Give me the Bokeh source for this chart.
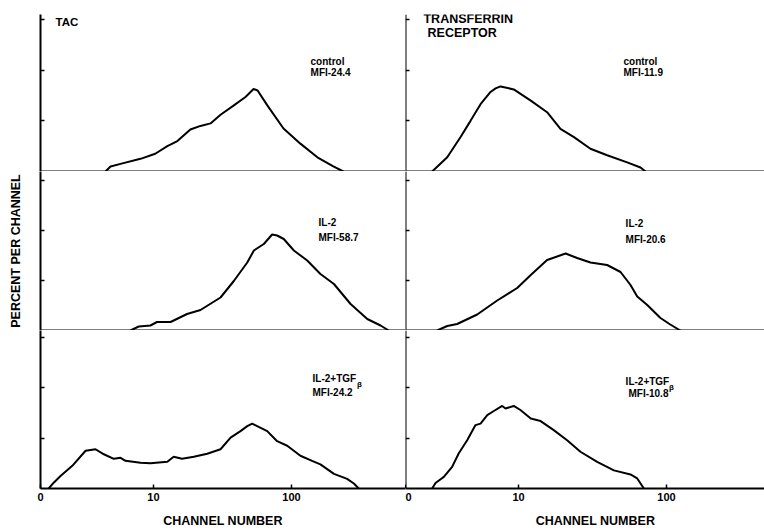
from bokeh.plotting import figure
from bokeh.layouts import column, row
from bokeh.models import Range1d, FixedTicker, Label
from bokeh.embed import file_html
from bokeh.resources import INLINE

FONT = "Liberation Sans"

# ---- axes ----
left_x_lo, left_x_hi = 1.518, 669.9      # channel number (log scale), TAC column
right_x_lo, right_x_hi = 1.724, 459.0    # channel number (log scale), transferrin column
y_lo = 0.0
row_y_hi = [3.10, 3.18, 3.14]            # percent per channel, top of each row
y_ticks = [1, 2, 3]
x_tick_values = [10.0, 100.0]
x_tick_labels = ["10", "100"]
origin_label = "0"
x_axis_title = "CHANNEL NUMBER"
y_axis_title = "PERCENT PER CHANNEL"
column_titles = [["TAC"], ["TRANSFERRIN", "RECEPTOR"]]
conditions = ["control", "IL-2", "IL-2+TGF"]
tac_mfi = ["MFI-24.4", "MFI-58.7", "MFI-24.2"]
tr_mfi = ["MFI-11.9", "MFI-20.6", "MFI-10.8"]

# ---- data: channel number vs percent per channel ----
tac_control_ch = [4.49, 4.88, 5.77, 8.05, 10.3, 12.6, 14.9, 18.5, 21.9, 25.9, 30.6, 38.0, 46.4, 53.1,
                  56.8, 67.0, 87.5, 116, 154, 201, 238]
tac_control_pct = [0, 0.1, 0.15, 0.25, 0.35, 0.5, 0.6, 0.83, 0.9, 0.95, 1.12, 1.3, 1.47, 1.63,
                   1.6, 1.3, 0.85, 0.55, 0.28, 0.1, 0]

tr_control_ch = [2.61, 3.30, 4.06, 4.74, 5.54, 6.47, 7.00, 7.56, 9.29, 12.1, 15.6, 19.2, 23.7, 30.6,
                 39.7, 54.2, 66.7, 72.1]
tr_control_pct = [0, 0.28, 0.68, 1.0, 1.33, 1.57, 1.64, 1.68, 1.62, 1.4, 1.17, 0.84, 0.68, 0.45,
                  0.32, 0.18, 0.08, 0]

tac_il2_ch = [6.81, 7.82, 9.51, 10.6, 13.3, 17.5, 21.9, 30.6, 38.2, 47.8, 53.4, 63.0, 72.4, 78.7,
              87.9, 104, 130, 162, 203, 268, 354, 442, 507]
tac_il2_pct = [0, 0.08, 0.1, 0.17, 0.17, 0.33, 0.41, 0.66, 0.99, 1.36, 1.6, 1.73, 1.92, 1.9,
               1.83, 1.6, 1.4, 1.13, 0.93, 0.53, 0.23, 0.1, 0]

tr_il2_ch = [2.82, 3.30, 3.85, 5.26, 7.18, 9.80, 12.1, 15.6, 20.8, 24.9, 30.6, 39.7, 48.9, 57.1,
             63.4, 74.1, 91.0, 106, 124]
tr_il2_pct = [0, 0.09, 0.13, 0.32, 0.6, 0.85, 1.11, 1.41, 1.54, 1.45, 1.36, 1.31, 1.17, 0.91,
              0.68, 0.51, 0.25, 0.12, 0]

tac_tgf_ch = [1.74, 1.90, 2.12, 2.58, 3.22, 3.80, 4.37, 5.16, 5.77, 6.27, 8.05, 9.51, 12.6, 14.0,
              16.1, 19.6, 24.5, 30.6, 36.2, 42.7, 47.8, 51.9, 56.4, 66.7, 78.7, 93.1, 116, 141,
              162, 203, 253, 283, 307]
tac_tgf_pct = [0, 0.12, 0.25, 0.45, 0.75, 0.78, 0.68, 0.59, 0.61, 0.55, 0.51, 0.5, 0.53, 0.63,
               0.59, 0.63, 0.69, 0.78, 1.01, 1.14, 1.24, 1.29, 1.24, 1.14, 0.94, 0.85, 0.65, 0.55,
               0.48, 0.29, 0.19, 0.1, 0]

tr_tgf_ch = [2.61, 2.75, 3.13, 3.56, 3.95, 4.50, 5.12, 5.54, 6.15, 6.81, 7.76, 8.17, 9.29, 10.3,
             12.1, 14.1, 17.3, 21.3, 26.2, 34.0, 44.1, 57.1, 63.4, 70.3]
tr_tgf_pct = [0, 0.11, 0.23, 0.43, 0.7, 0.96, 1.26, 1.29, 1.46, 1.54, 1.64, 1.59, 1.64, 1.56,
              1.39, 1.34, 1.16, 0.96, 0.73, 0.53, 0.36, 0.28, 0.2, 0]

series = [
    [(tac_control_ch, tac_control_pct), (tr_control_ch, tr_control_pct)],
    [(tac_il2_ch, tac_il2_pct), (tr_il2_ch, tr_il2_pct)],
    [(tac_tgf_ch, tac_tgf_pct), (tr_tgf_ch, tr_tgf_pct)],
]

# annotation placement (data coords) per row: [left, right] -> (x1, y1, x2, y2)
cond_pos = [
    [(137.4, 2.18, 137.4, 1.96), (51.2, 2.18, 51.2, 1.96)],
    [(157.0, 2.16, 157.0, 1.86), (52.9, 2.14, 52.9, 1.82)],
    [(142.0, 2.18, 142.0, 1.90), (52.9, 2.12, 55.3, 1.88)],
]
beta_pos = [(298.0, 2.06), (104.1, 2.00)]
title_pos = [[(1.95, 2.96)], [(2.28, 3.01), (2.43, 2.74)]]
title_sizes = [["11.5px"], ["12.5px", "12.5px"]]
x_title_pad = ["", "\u00a0" * 6]

heights = [171, 159, 201]
widths = [405, 359]


def make_panel(col, r):
    left = col == 0
    lo, hi = (left_x_lo, left_x_hi) if left else (right_x_lo, right_x_hi)
    p = figure(width=widths[col], height=heights[r], x_axis_type="log",
               x_range=Range1d(lo, hi), y_range=Range1d(y_lo, row_y_hi[r]),
               output_backend="svg", toolbar_location=None,
               min_border=0, min_border_left=40 if left else 0,
               min_border_right=0,
               min_border_top=14 if r == 0 else 0,
               min_border_bottom=43 if r == 2 else 0)
    p.outline_line_color = None
    p.grid.visible = False
    p.background_fill_color = "white"
    p.border_fill_color = "white"

    ya = p.yaxis[0]
    ya.ticker = FixedTicker(ticks=y_ticks)
    ya.major_tick_in = 4
    ya.major_tick_out = 0
    ya.major_tick_line_width = 1.5
    ya.minor_tick_line_color = None
    ya.axis_line_width = 2
    ya.axis_line_color = "black"
    ya.major_label_text_color = None
    ya.major_label_standoff = 0
    if not left:
        ya.fixed_location = lo
    if left and r == 1:
        ya.axis_label = y_axis_title
        ya.axis_label_text_font = FONT
        ya.axis_label_text_font_style = "bold"
        ya.axis_label_text_font_size = "12.5px"
        ya.axis_label_text_color = "black"
        ya.axis_label_standoff = 18

    xa = p.xaxis[0]
    xa.axis_line_width = 2
    xa.axis_line_color = "black"
    xa.minor_tick_line_color = None
    if r < 2:
        xa.fixed_location = 0
        xa.ticker = FixedTicker(ticks=[])
        xa.major_tick_line_color = None
        xa.major_label_text_color = None
    else:
        xa.ticker = FixedTicker(ticks=[lo] + x_tick_values)
        overrides = {lo: origin_label}
        for v, t in zip(x_tick_values, x_tick_labels):
            overrides[v] = t
        xa.major_label_overrides = overrides
        xa.major_tick_in = 4
        xa.major_tick_out = 0
        xa.major_tick_line_width = 1.5
        xa.major_label_standoff = 4
        xa.major_label_text_font = FONT
        xa.major_label_text_font_style = "bold"
        xa.major_label_text_font_size = "11px"
        xa.major_label_text_color = "black"
        xa.axis_label = x_title_pad[col] + x_axis_title
        xa.axis_label_text_font = FONT
        xa.axis_label_text_font_style = "bold"
        xa.axis_label_text_font_size = "12.5px"
        xa.axis_label_text_color = "black"
        xa.axis_label_standoff = 10

    ch, pct = series[r][col]
    p.line(ch, pct, line_color="black", line_width=2)

    # texts
    mfi = tac_mfi if left else tr_mfi
    x1, y1, x2, y2 = cond_pos[r][col]
    p.add_layout(Label(x=x1, y=y1, text=conditions[r], text_font=FONT, text_font_style="bold",
                       text_font_size="10px", text_baseline="middle", text_color="black"))
    p.add_layout(Label(x=x2, y=y2, text=mfi[r], text_font=FONT,
                       text_font_style="bold", text_font_size="10px", text_baseline="middle",
                       text_color="black"))
    if r == 2:
        bx, by = beta_pos[col]
        p.add_layout(Label(x=bx, y=by, text="β", text_font=FONT, text_font_style="bold",
                           text_font_size="8px", text_baseline="middle", text_color="black"))
    if r == 0:
        for t, (tx, ty), fs in zip(column_titles[col], title_pos[col], title_sizes[col]):
            p.add_layout(Label(x=tx, y=ty, text=t, text_font=FONT, text_font_style="bold",
                               text_font_size=fs, text_baseline="middle",
                               text_color="black"))
    return p


rows = []
for r in range(3):
    rows.append(row(make_panel(0, r), make_panel(1, r), spacing=0))
layout = column(*rows, spacing=0)

open("out.html", "w").write(file_html(layout, INLINE))
